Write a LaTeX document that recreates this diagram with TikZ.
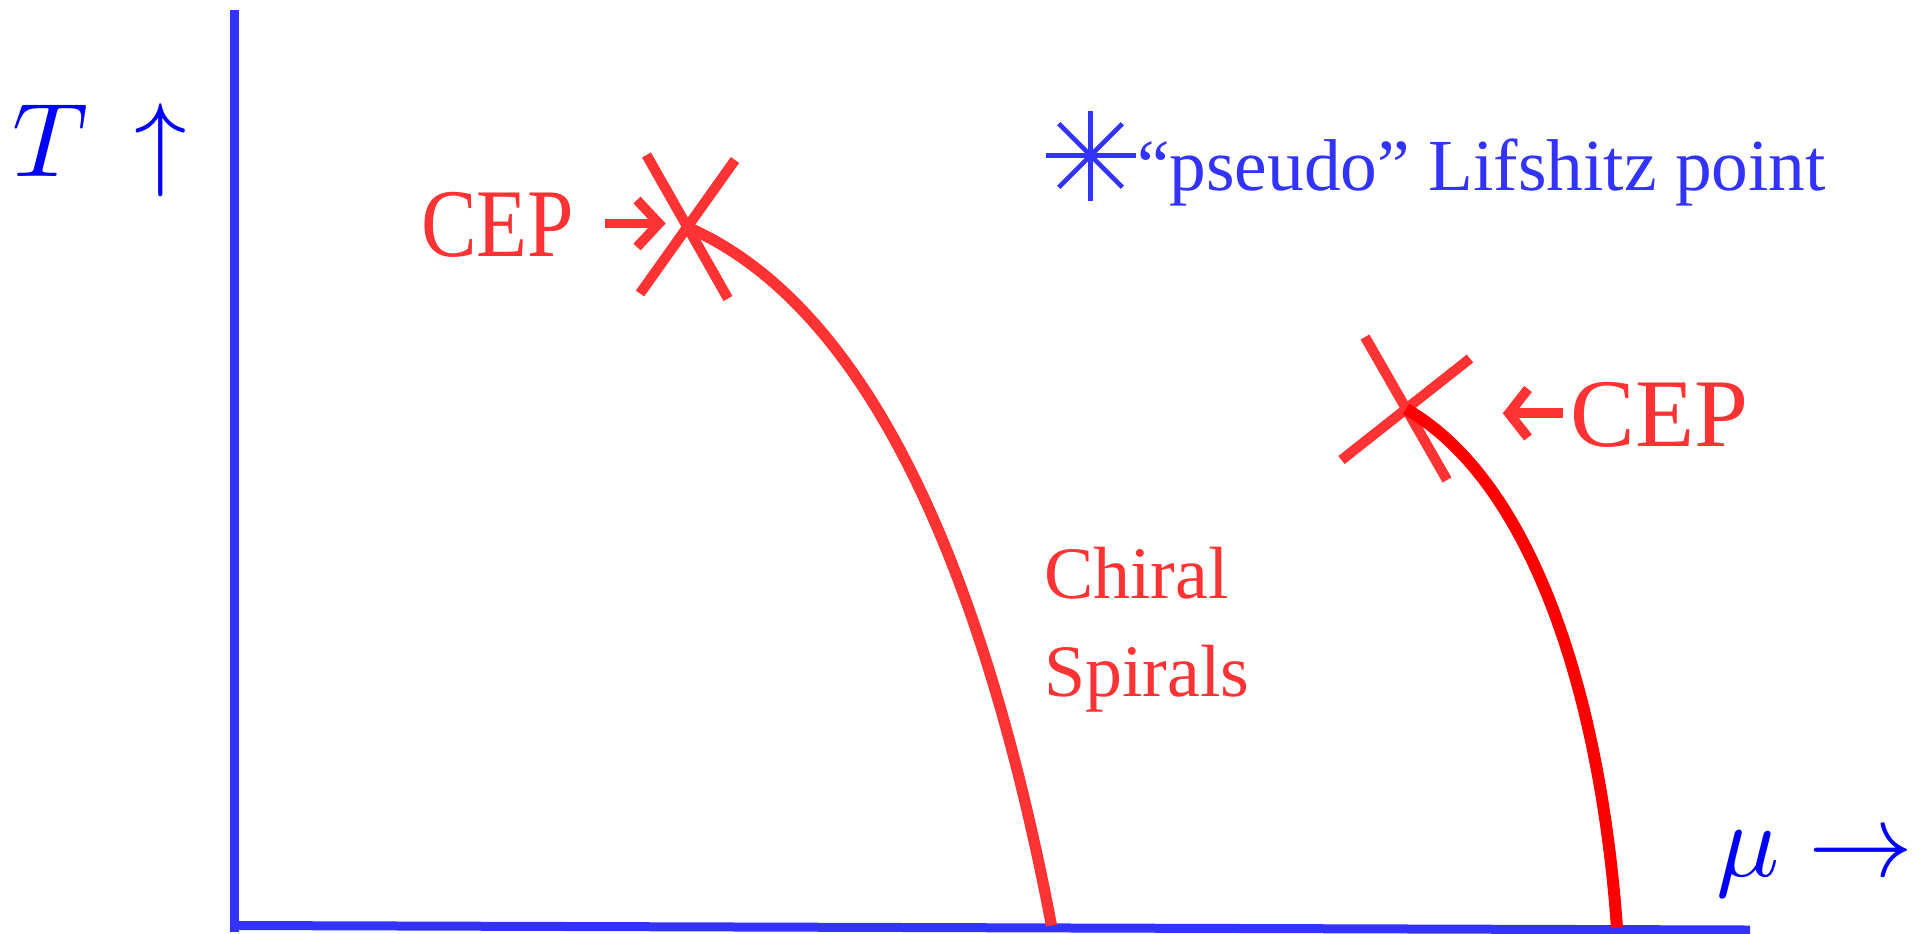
\documentclass[tikz,border=0pt]{standalone}
\usepackage{fontspec}
\setmainfont{Liberation Serif}
\usepackage{graphicx}
\definecolor{lred}{RGB}{255,51,51}
\definecolor{pred}{RGB}{255,0,0}
\definecolor{lblue}{RGB}{51,51,255}
\definecolor{pblue}{RGB}{0,0,255}
\begin{document}
\begin{tikzpicture}[x=0.5pt,y=-0.5pt,
  axisline/.style={draw=lblue, line width=4.5pt},
  crossline/.style={draw=lred, line width=5.1pt},
  curveL/.style={draw=lred, line width=5.6pt},
  curveR/.style={draw=pred, line width=6pt},
  txtarrow/.style={draw=lred, line width=4.9pt, miter limit=10},
  spoke/.style={draw=lblue, line width=2.3pt},
  lbl/.style={anchor=base west, inner sep=0pt, outer sep=0pt}
]
\useasboundingbox[fill=white] (0,0) rectangle (1928,933);

% axes
\coordinate (origin) at (234,925.5);
\coordinate (ytop) at (234,9.5);
\coordinate (ybot) at (234,932);
\coordinate (xend) at (1750,930);
\draw[axisline] (ytop) -- (ybot);
\draw[axisline] (origin) -- (xend);

% axis labels
\node[lbl, text=pblue] (Tlab) at (12,176.5) {\scalebox{5.25}{$T\mkern3mu\uparrow$}};
\node[lbl, text=pblue] (mulab) at (1716,876) {\scalebox{5.25}{$\mu\rightarrow$}};

% key points
\coordinate (cepL) at (687,227);
\coordinate (cepR) at (1406,409);
\coordinate (endL) at (1051.5,925.5);
\coordinate (endR) at (1617,928);

% crosses
\draw[crossline] ([shift={(-40.5,-72)}]cepL) -- ([shift={(41,71.5)}]cepL);
\draw[crossline] ([shift={(48,-67)}]cepL) -- ([shift={(-47,66.5)}]cepL);
\draw[crossline] ([shift={(-41,-72)}]cepR) -- ([shift={(41,71)}]cepR);
\draw[crossline] ([shift={(64,-50.5)}]cepR) -- ([shift={(-64.5,51)}]cepR);

% phase boundaries
\draw[curveL] (cepL) .. controls (890,315) and (995,630) .. (endL);
\draw[curveR] (cepR) .. controls (1530,480) and (1600,690) .. (endR);

% CEP labels with arrows
\node[lbl, text=lred, font=\fontsize{48.5}{58}\selectfont] (cepLlab) at (421,256.7) {\scalebox{0.86}[1]{CEP}};
\node[lbl, text=lred, font=\fontsize{48.5}{58}\selectfont] (cepRlab) at (1570.5,446.7) {CEP};
\coordinate (aLs) at (605,223.5);
\coordinate (aLt) at (659,223.5);
\draw[txtarrow] (aLs) -- (aLt);
\draw[txtarrow] (637,200) -- (aLt) -- (637,247);
\coordinate (aRs) at (1563,413.3);
\coordinate (aRt) at (1509,413.3);
\draw[txtarrow] (aRs) -- (aRt);
\draw[txtarrow] (1528,389) -- (aRt) -- (1528,437.5);

% Chiral spirals label
\node[lbl, text=lred, font=\fontsize{37}{49.2}\selectfont, align=left] (chiral) at (1044,696.7) {Chiral\\Spirals};

% pseudo Lifshitz point legend
\coordinate (ast) at (1090.5,155.5);
\foreach \a in {0,45,...,315} \draw[spoke] (ast) -- ++(\a:45);
\node[lbl, text=lblue, font=\fontsize{36.7}{44}\selectfont] (lif) at (1137,190) {“pseudo” Lifshitz point};
\end{tikzpicture}
\end{document}
